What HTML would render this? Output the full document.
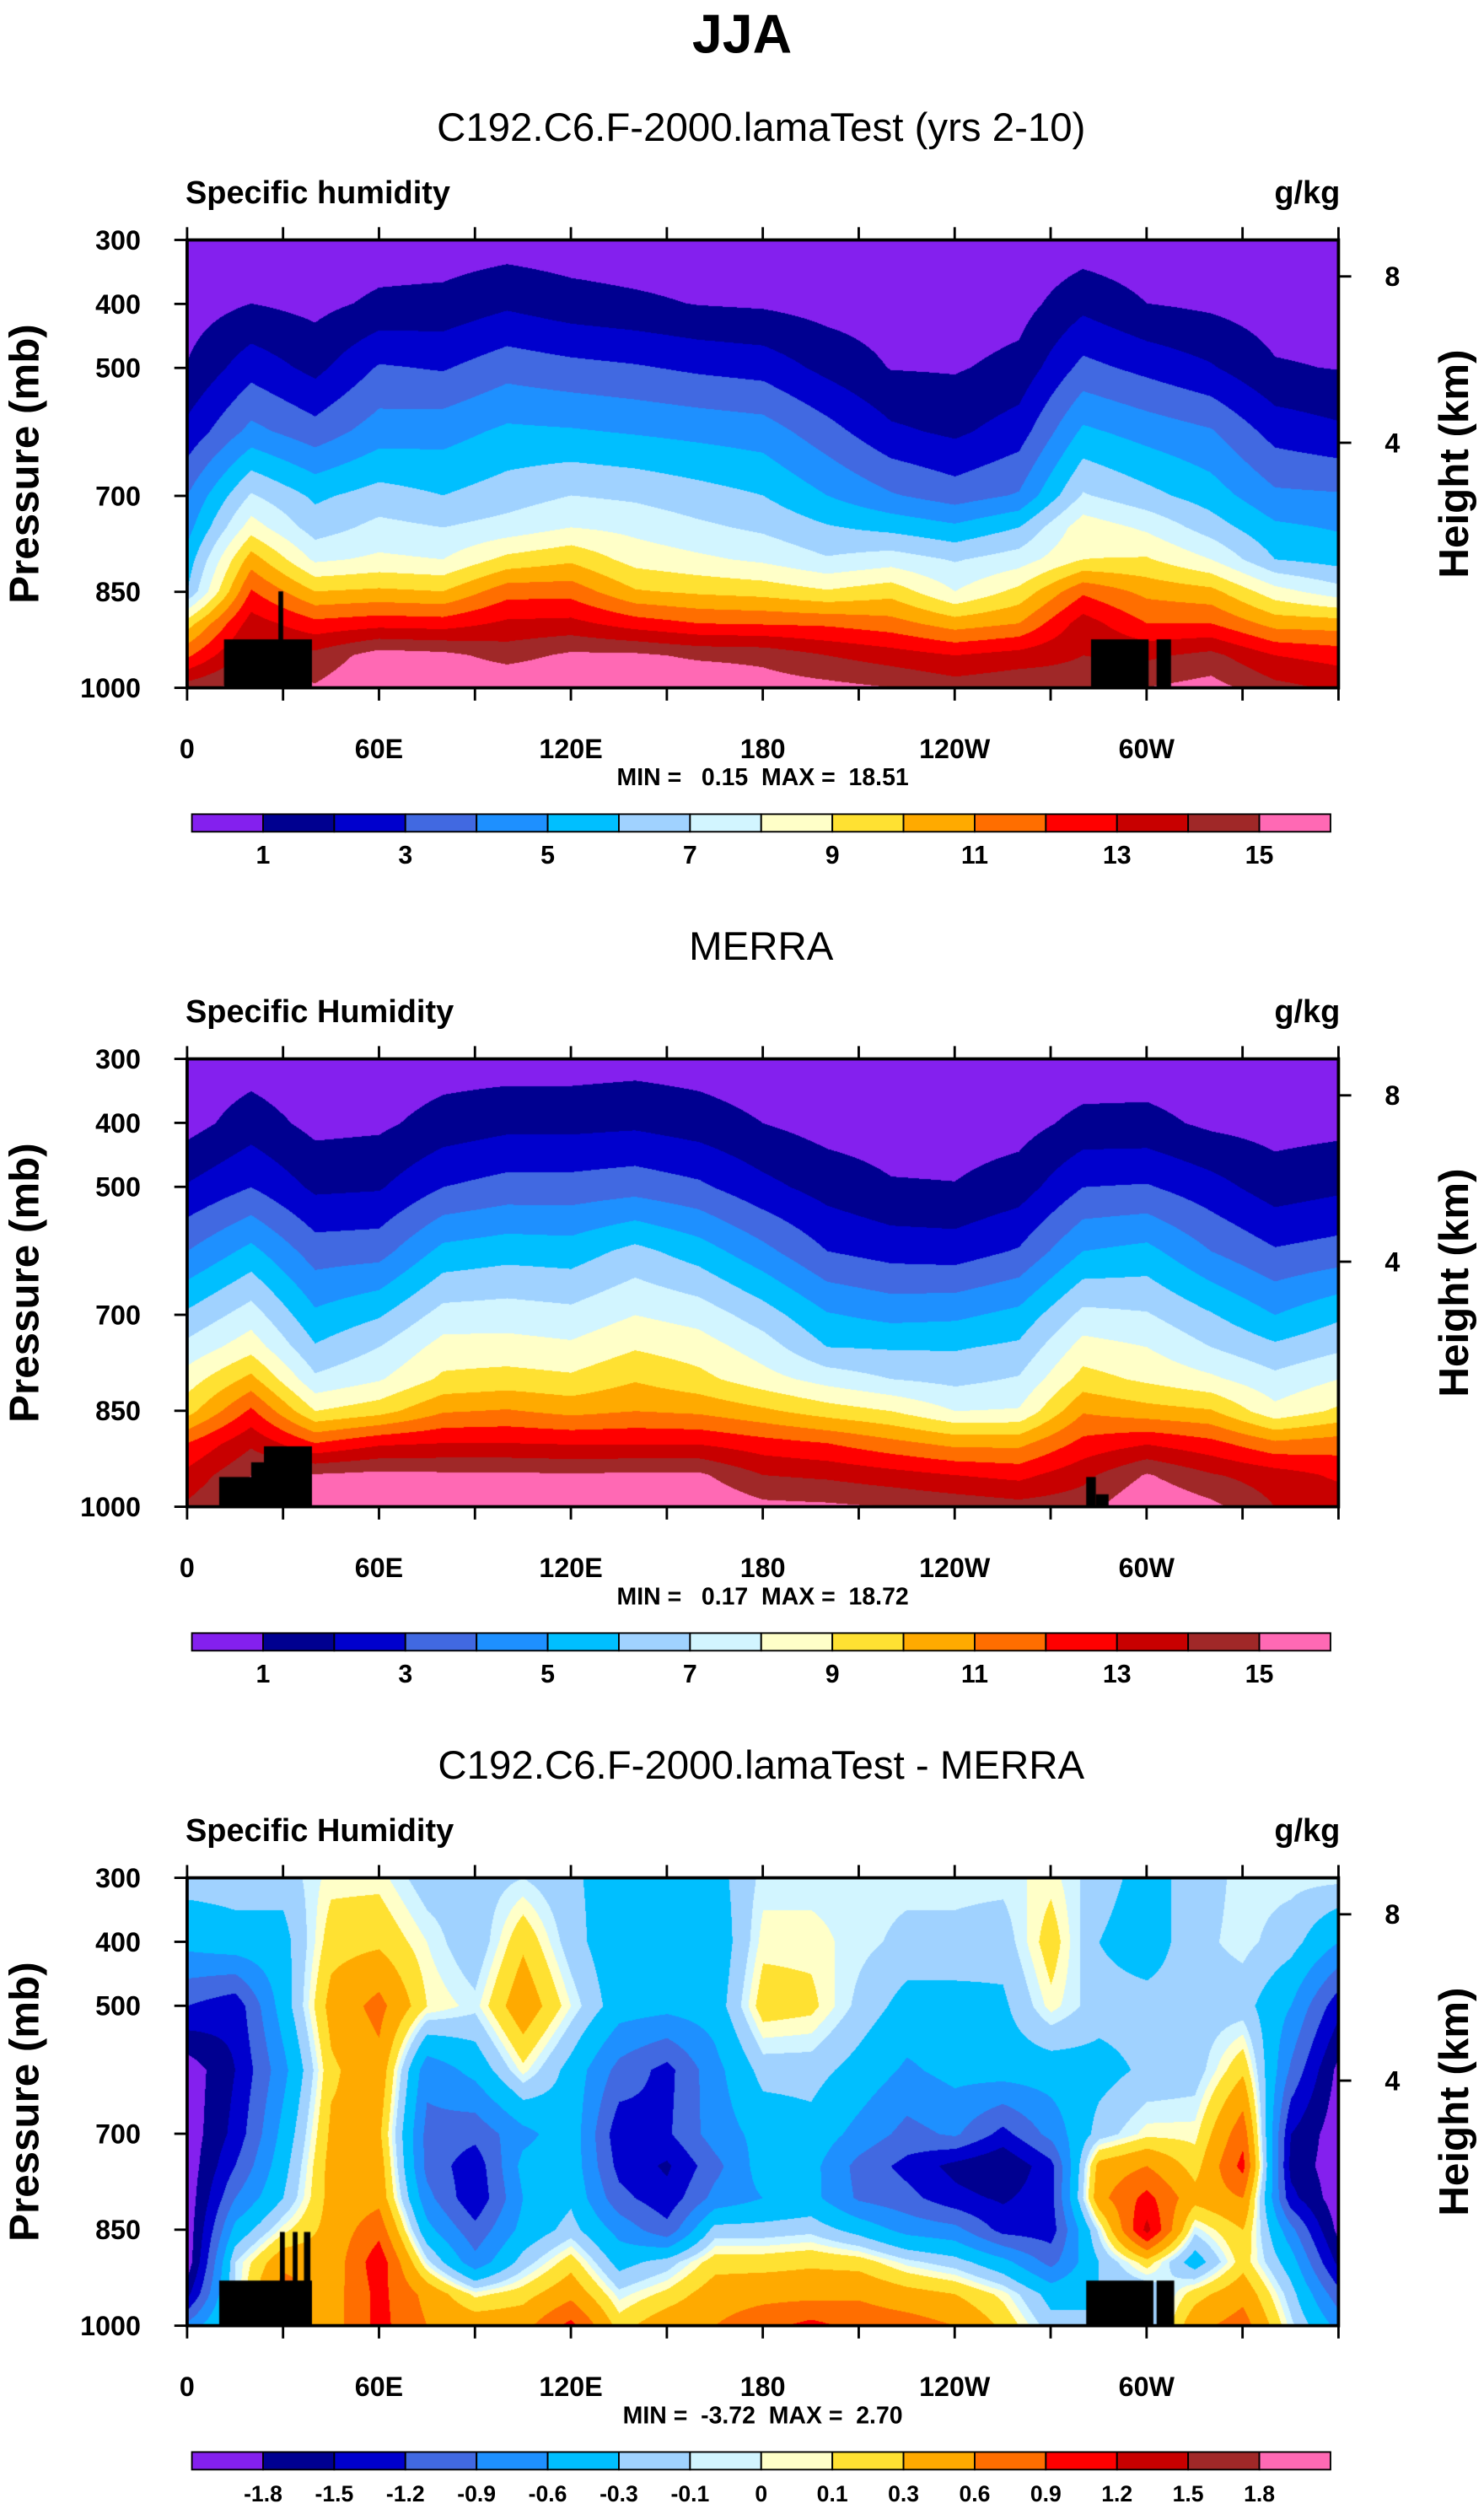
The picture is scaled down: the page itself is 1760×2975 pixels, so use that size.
<!DOCTYPE html>
<html><head><meta charset="utf-8">
<style>
html,body{margin:0;padding:0;background:#fff;}
#root{position:relative;width:1760px;height:2975px;overflow:hidden;background:#fff;}
canvas{position:absolute;}
svg{position:absolute;left:0;top:0;}
text{font-family:"Liberation Sans",Arial,sans-serif;fill:#000;}
.pre{white-space:pre;}
</style></head>
<body>
<div id="root">
<canvas id="c1"></canvas>
<canvas id="c2"></canvas>
<canvas id="c3"></canvas>
<svg id="ov" width="1760" height="2975" viewBox="0 0 928 1568.6">
<text x="464" y="33" text-anchor="middle" font-size="34" font-weight="bold">JJA</text>
</svg>
</div>
<script>
// ---------- data ----------
const lons = [0,20,40,60,80,100,120,140,160,180,200,220,240,260,280,300,320,340,360];
const lonsDiff = [0,15,30,45,60,75,90,105,120,135,150,165,180,195,210,225,240,255,270,285,300,315,330,345,360];
const plevs = [300,400,500,600,700,750,800,850,900,950,1000];
const qModel = [
[0.3,0.5,1.05,2.3,4.0,4.6,5.4,6.0,9.5,11.8,14.5],
[0.4,1.0,2.6,4.3,7.1,8.5,10.5,12.1,13.5,14.5,15.5],
[0.3,0.7,1.7,3.4,5.8,6.5,7.8,10.0,12.3,14.3,15.1],
[0.4,1.2,3.1,4.5,6.4,7.3,8.2,10.2,12.6,15.5,16],
[0.4,1.3,2.9,4.6,6.0,7.0,8.0,10.0,12.5,15.3,16],
[0.5,1.8,3.6,5.2,6.5,7.4,9.3,11.6,13.2,14.6,16],
[0.4,1.4,3.3,5.1,7.0,8.0,9.8,11.6,13.3,15.2,16],
[0.3,1.2,3.1,4.9,6.8,7.7,8.6,10.1,12.5,15.2,16],
[0.3,0.95,2.8,4.7,6.4,7.2,8.2,9.8,12.0,14.8,16],
[0.3,0.85,2.6,4.5,6.0,6.8,7.8,9.6,11.9,14.7,15.5],
[0.3,0.6,1.7,3.4,5.0,6.1,7.1,9.1,11.8,14.0,15.3],
[0.2,0.5,0.95,2.2,4.1,5.7,7.5,9.6,11.4,13.5,15.0],
[0.2,0.4,0.9,1.8,3.5,5.2,6.9,8.0,10.5,13.0,14.5],
[0.2,0.6,1.3,2.5,4.1,6.0,7.5,9.3,11.0,13.4,14.8],
[0.4,1.7,3.3,5.2,7.1,8.6,9.0,11.8,13.5,14.0,14.5],
[0.3,1.0,2.7,4.6,6.3,7.8,9.1,10.7,12.0,13.8,15.0],
[0.3,0.8,2.1,4.1,5.5,6.5,8.0,10.3,12.0,14.3,15.4],
[0.2,0.5,1.1,2.6,4.2,5.2,6.0,8.4,10.6,13.0,14.3],
[0.2,0.5,0.95,2.2,4.1,4.9,5.6,7.4,10.5,12.6,13.8]];
const qMerra = [
[0.3,0.6,2.1,4.0,6.2,7.3,8.5,9.6,12.0,13.3,14.2],
[0.5,1.5,3.0,5.3,7.5,8.6,10.3,12.2,13.8,15,15.5],
[0.2,0.7,1.8,3.5,5.2,6.1,7.2,9.0,12.0,15.1,16],
[0.3,0.8,1.9,3.6,5.9,7.0,7.9,9.6,12.8,15.3,16],
[0.5,1.4,3.0,5.3,7.4,8.4,9.2,10.9,13.0,15.2,16],
[0.5,1.7,3.4,5.6,7.5,8.4,9.4,11.1,13.0,15.2,16],
[0.5,1.7,3.4,5.5,7.3,8.2,9.2,10.7,12.9,15.1,16],
[0.6,1.8,3.6,6.3,8.0,8.9,9.9,11.0,12.9,15.2,16],
[0.5,1.5,3.2,5.5,7.6,8.5,9.3,10.8,12.9,15.2,16],
[0.3,1.0,2.3,4.3,6.5,7.5,8.4,10.2,12.4,14.0,15.3],
[0.2,0.6,1.6,3.0,5.1,6.0,7.6,9.5,12.0,13.8,15.2],
[0.2,0.5,1.1,2.6,4.7,5.9,7.0,9.0,11.3,13.4,15.0],
[0.2,0.5,1.05,2.5,4.8,5.9,6.7,8.0,10.7,13.0,14.7],
[0.2,0.6,1.5,3.1,5.3,6.2,7.1,8.1,10.7,12.7,14.4],
[0.3,1.3,3.0,5.0,7.3,8.4,9.4,10.9,12.3,13.7,14.6],
[0.4,1.3,3.1,5.3,7.1,8.0,8.8,10.4,12.9,15.1,16],
[0.3,0.8,2.4,4.0,6.1,7.0,8.2,10.1,12.3,14.1,15.3],
[0.2,0.6,1.5,3.1,5.0,6.2,7.3,8.3,11.2,13.5,14.0],
[0.3,0.7,1.8,3.4,5.8,6.8,8.0,9.2,11.5,12.8,13.7]];
const qDiff = [
[-0.2,-0.5,-1.2,-2.0,-2.0,-2.0,-2.0,-2.0,-2.0,-1.6,-0.8],
[-0.2,-0.4,-1.4,-1.5,-1.4,-1.2,-0.9,-0.5,-0.1,-0.1,-0.1],
[-0.2,-0.4,-0.45,-0.7,-0.5,-0.4,-0.3,0.05,0.5,0.8,0.8],
[0.05,0.2,0.4,0.25,0.35,0.4,0.4,0.4,0.4,0.45,0.45],
[0.05,0.25,0.7,0.5,0.35,0.45,0.5,0.8,1.1,1.0,1.0],
[-0.2,0.0,0.1,-0.8,-1.0,-1.0,-0.8,-0.5,-0.05,0.5,0.6],
[-0.2,-0.25,-0.05,-0.5,-1.1,-1.4,-1.45,-1.1,-0.8,0.05,0.5],
[-0.1,0.25,0.5,0.05,-0.7,-0.5,-0.6,-0.5,-0.2,0.2,0.5],
[-0.25,-0.2,0.0,-0.4,-0.4,-0.4,-0.35,-0.2,0.2,0.5,1.0],
[-0.45,-0.5,-0.45,-1.0,-1.4,-1.3,-1.1,-0.7,-0.4,-0.05,0.2],
[-0.45,-0.5,-0.5,-1.3,-1.25,-1.55,-1.4,-1.1,-0.2,0.15,0.5],
[-0.4,-0.5,-0.45,-0.7,-0.75,-1.0,-0.8,-0.2,0.2,0.45,0.6],
[-0.05,0.05,0.2,-0.2,-0.5,-0.45,-0.6,-0.2,0.2,0.5,0.8],
[-0.05,0.05,0.15,-0.2,-0.4,-0.5,-0.5,-0.15,0.25,0.5,1.0],
[-0.05,-0.05,-0.15,-0.4,-0.7,-1.0,-0.95,-0.4,0.2,0.55,0.8],
[-0.05,-0.15,-0.4,-0.65,-1.0,-1.3,-1.1,-0.7,-0.05,0.4,0.75],
[-0.05,-0.15,-0.4,-0.5,-0.85,-1.6,-1.4,-0.8,-0.2,0.3,0.6],
[-0.05,-0.2,-0.35,-0.45,-1.3,-1.8,-1.55,-1.3,-0.5,0.05,0.25],
[0.05,0.2,0.05,-0.45,-0.8,-1.3,-1.3,-1.35,-1.0,-0.4,-0.2],
[-0.2,-0.3,-0.2,-0.4,-0.2,0.4,0.5,-0.05,-0.3,-0.3,-0.3],
[-0.4,-0.45,-0.2,-0.25,0.05,0.6,1.0,1.3,0.2,-0.3,-0.3],
[-0.2,-0.15,-0.2,-0.2,0.05,0.2,0.4,-0.05,-0.45,0.2,0.5],
[-0.05,-0.05,-0.2,0.25,0.8,1.0,0.6,0.3,0.2,0.5,0.75],
[-0.05,-0.2,-0.6,-0.95,-1.5,-1.6,-1.4,-0.8,-0.45,-0.2,-0.05],
[-0.05,-0.6,-1.4,-1.9,-2.0,-2.0,-2.0,-1.9,-1.6,-1.1,-0.7]];
const topoModel = [[11.5,39,925],[28.5,30,850],[282.5,300.5,925],[303,307.5,925]];
const topoMerra = [[10,39,953],[20,27,930],[24,39,905],[281,284,953],[284,288,980]];
const topoDiff = [[10,39,929],[29,30.5,853],[33,34.5,853],[36.5,38.5,853],[281,302,929],[303,308.5,929]];
const levelsQ = [1,2,3,4,5,6,7,8,9,10,11,12,13,14,15];
const labelsQ = ["1","","3","","5","","7","","9","","11","","13","","15"];
const levelsD = [-1.8,-1.5,-1.2,-0.9,-0.6,-0.3,-0.1,0,0.1,0.3,0.6,0.9,1.2,1.5,1.8];
const labelsD = ["-1.8","-1.5","-1.2","-0.9","-0.6","-0.3","-0.1","0","0.1","0.3","0.6","0.9","1.2","1.5","1.8"];
const xTickVals = [0,60,120,180,240,300];
const xTickLabels = ["0","60E","120E","180","120W","60W"];
const pTickVals = [300,400,500,700,850,1000];
const zTickVals = [8,4];
const zTickP = [357,617];
const colors = ["#8420ee","#000090","#0000cd","#4169e1","#1e90ff","#00bfff","#a0d2ff","#d2f5ff","#ffffc8","#ffe132","#ffaa00","#ff6e00","#ff0000","#c80000","#a02828","#ff69b4"];

// ---------- layout (viewBox units) ----------
const S = 1760/928;
const PX0 = 117, PW = 720, PH = 280;
const panels = [
 {top:150, grid:qModel, lons:lons, levels:levelsQ, labels:labelsQ, topo:topoModel, title:"C192.C6.F-2000.lamaTest (yrs 2-10)", left:"Specific humidity", stats:"MIN =   0.15  MAX =  18.51", canvas:"c1", key:"model"},
 {top:662, grid:qMerra, lons:lons, levels:levelsQ, labels:labelsQ, topo:topoMerra, title:"MERRA", left:"Specific Humidity", stats:"MIN =   0.17  MAX =  18.72", canvas:"c2", key:"merra"},
 {top:1174, grid:qDiff, lons:lonsDiff, levels:levelsD, labels:labelsD, topo:topoDiff, title:"C192.C6.F-2000.lamaTest - MERRA", left:"Specific Humidity", stats:"MIN =  -3.72  MAX =  2.70", canvas:"c3", key:"diff"}
];
function xOf(lon){return PX0 + lon/360*PW;}
function yOf(p,top){return top + (p-300)/700*PH;}

function interp(grid, lns, lon, p){
  let i=0; while(i<lns.length-2 && lon>lns[i+1]) i++;
  let j=0; while(j<plevs.length-2 && p>plevs[j+1]) j++;
  const tx=(lon-lns[i])/(lns[i+1]-lns[i]), ty=(p-plevs[j])/(plevs[j+1]-plevs[j]);
  const a=grid[i][j], b=grid[i+1][j], c=grid[i][j+1], d=grid[i+1][j+1];
  return (a*(1-tx)+b*tx)*(1-ty)+(c*(1-tx)+d*tx)*ty;
}
function hexRgb(h){return [parseInt(h.substr(1,2),16),parseInt(h.substr(3,2),16),parseInt(h.substr(5,2),16)];}
const rgb = colors.map(hexRgb);

const NS="http://www.w3.org/2000/svg";
const ov=document.getElementById('ov');
function mk(tag, attrs, parent, txt){
  const e=document.createElementNS(NS,tag);
  for(const k in attrs) e.setAttribute(k,attrs[k]);
  if(txt!==undefined) e.textContent=txt;
  (parent||ov).appendChild(e); return e;
}

panels.forEach((P,pi)=>{
  const cv=document.getElementById(P.canvas);
  const L=Math.round(PX0*S), T=Math.round(P.top*S), W=Math.round(PW*S), H=Math.round(PH*S);
  cv.width=W; cv.height=H; cv.style.left=L+'px'; cv.style.top=T+'px';
  const ctx=cv.getContext('2d'); const img=ctx.createImageData(W,H);
  for(let py=0;py<H;py++){
    const p=300+(py+0.5)/H*700;
    for(let px=0;px<W;px++){
      const lon=(px+0.5)/W*360;
      const v=interp(P.grid,P.lons,lon,p);
      let k=0; while(k<P.levels.length && v>=P.levels[k]) k++;
      const c=rgb[k], o=(py*W+px)*4;
      img.data[o]=c[0];img.data[o+1]=c[1];img.data[o+2]=c[2];img.data[o+3]=255;
    }
  }
  ctx.putImageData(img,0,0);
  ctx.fillStyle='#000';
  P.topo.forEach(t=>{
    const x0=(t[0]/360)*W, x1=(t[1]/360)*W, y0=(t[2]-300)/700*H;
    ctx.fillRect(x0,y0,x1-x0,H-y0);
  });

  const g=mk('g',{});
  
  
  const ttl=mk('text',{x:476,y:P.top-62,'text-anchor':'middle','font-size':25},g,P.title);
  
  
  const lt=mk('text',{x:116,y:P.top-23,'font-size':20,'font-weight':'bold'},g,P.left);
  
  
  const ut=mk('text',{x:838,y:P.top-23,'text-anchor':'end','font-size':20,'font-weight':'bold'},g,"g/kg");
  
  
  const fr=mk('rect',{x:PX0,y:P.top,width:PW,height:PH,fill:'none',stroke:'#000','stroke-width':2},g);
  
  
  for(let lon=0;lon<=360;lon+=30){
    const x=xOf(lon);
    const t1=mk('line',{x1:x,x2:x,y1:P.top,y2:P.top-8,stroke:'#000','stroke-width':1.5},g);
    
    
    const t2=mk('line',{x1:x,x2:x,y1:P.top+PH,y2:P.top+PH+8,stroke:'#000','stroke-width':1.5},g);
    
    
  }
  xTickVals.forEach((v,i)=>{
    const tl=mk('text',{x:xOf(v),y:P.top+PH+44,'text-anchor':'middle','font-size':17,'font-weight':'bold'},g,xTickLabels[i]);
    
    
  });
  pTickVals.forEach(v=>{
    const y=yOf(v,P.top);
    const tk=mk('line',{x1:PX0,x2:PX0-8,y1:y,y2:y,stroke:'#000','stroke-width':1.5},g);
    
    
    const tl=mk('text',{x:88,y:y+6,'text-anchor':'end','font-size':17,'font-weight':'bold'},g,String(v));
    
    
  });
  zTickVals.forEach((v,i)=>{
    const y=yOf(zTickP[i],P.top);
    const tk=mk('line',{x1:PX0+PW,x2:PX0+PW+8,y1:y,y2:y,stroke:'#000','stroke-width':1.5},g);
    
    
    const tl=mk('text',{x:866,y:y+6,'font-size':17,'font-weight':'bold'},g,String(v));
    
    
  });
  const ya=mk('text',{x:0,y:0,'text-anchor':'middle','font-size':26,'font-weight':'bold',transform:`translate(24,${P.top+140}) rotate(-90)`},g,"Pressure (mb)");
  
  
  const ya2=mk('text',{x:0,y:0,'text-anchor':'middle','font-size':26,'font-weight':'bold',transform:`translate(918,${P.top+140}) rotate(-90)`},g,"Height (km)");
  
  
  const st=mk('text',{x:477,y:P.top+PH+61,'text-anchor':'middle','font-size':15,'font-weight':'bold','class':'pre'},g,P.stats);
  
  
  const cb=mk('g',{},g);
  
  
  const cbx=120, cbw=712/16, cby=P.top+359;
  colors.forEach((c,i)=>{
    const r=mk('rect',{x:cbx+i*cbw,y:cby,width:cbw,height:11,fill:c,stroke:'#000','stroke-width':1},cb);
    
    
  });
  P.labels.forEach((lab,i)=>{
    if(!lab) return;
    const tl=mk('text',{x:cbx+(i+1)*cbw,y:cby+31,'text-anchor':'middle','font-size':pi==2?14:16,'font-weight':'bold'},cb,lab);
    
    
  });
});
</script>
</body></html>
